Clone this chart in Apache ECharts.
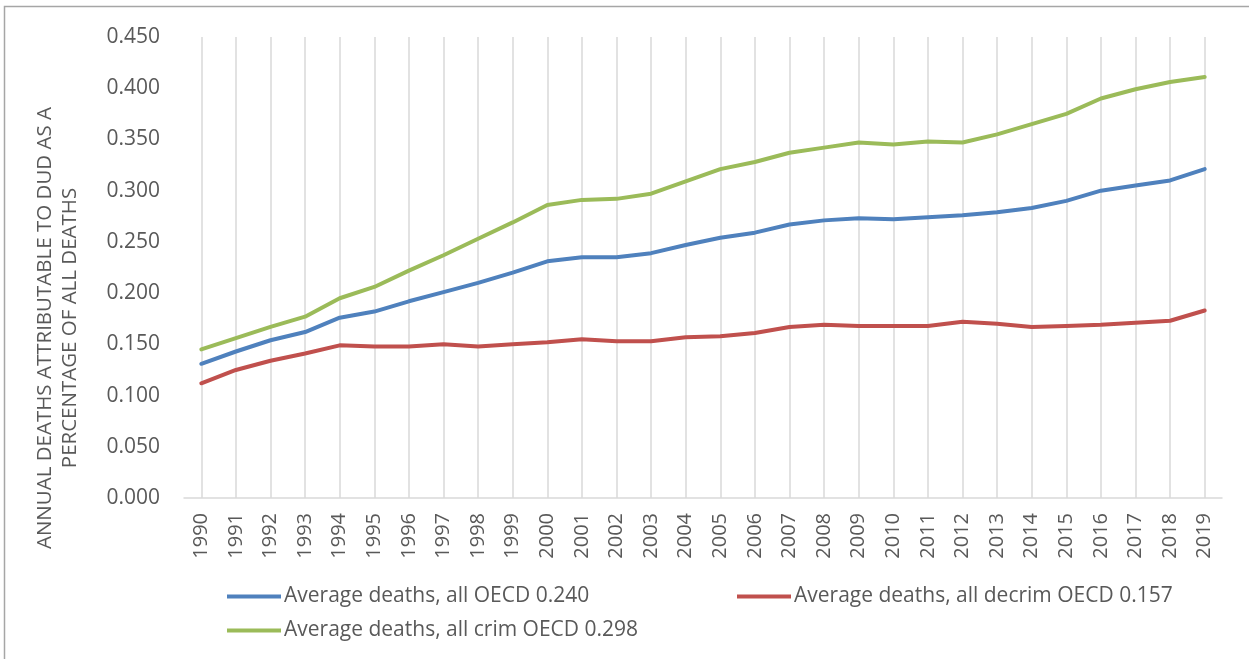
<!DOCTYPE html>
<html>
<head>
<meta charset="utf-8">
<script src="https://cdn.jsdelivr.net/npm/echarts@6/dist/echarts.min.js"></script>
<style>
  html, body { margin: 0; padding: 0; background: #ffffff; }
  #chart { width: 1249px; height: 659px; }
</style>
</head>
<body>
<div id="chart"></div>
<script>
// Years on the category axis
const years = ['1990','1991','1992','1993','1994','1995','1996','1997','1998','1999',
               '2000','2001','2002','2003','2004','2005','2006','2007','2008','2009',
               '2010','2011','2012','2013','2014','2015','2016','2017','2018','2019'];

// Annual deaths attributable to DUD, % of all deaths
const allOecd = [0.131,0.143,0.154,0.162,0.176,0.182,0.192,0.201,0.210,0.220,
                 0.231,0.235,0.235,0.239,0.247,0.254,0.259,0.267,0.271,0.273,
                 0.272,0.274,0.276,0.279,0.283,0.290,0.300,0.305,0.310,0.321];
const decrimOecd = [0.112,0.125,0.134,0.141,0.149,0.148,0.148,0.150,0.148,0.150,
                    0.152,0.155,0.153,0.153,0.157,0.158,0.161,0.167,0.169,0.168,
                    0.168,0.168,0.172,0.170,0.167,0.168,0.169,0.171,0.173,0.183];
const crimOecd = [0.145,0.156,0.167,0.177,0.195,0.206,0.222,0.237,0.253,0.269,
                  0.286,0.291,0.292,0.297,0.309,0.321,0.328,0.337,0.342,0.347,
                  0.345,0.348,0.347,0.355,0.365,0.375,0.390,0.399,0.406,0.411];

const seriesNames = ['Average deaths, all OECD 0.240',
                     'Average deaths, all decrim OECD 0.157',
                     'Average deaths, all crim OECD 0.298'];
const yAxisTitle = 'ANNUAL DEATHS ATTRIBUTABLE TO DUD AS A\nPERCENTAGE OF ALL DEATHS';

const FONT = '"Open Sans", "Noto Sans", sans-serif';
const TEXT = '#595959';
const colors = ['#4f81bd', '#c0504d', '#9bbb59'];

const chart = echarts.init(document.getElementById('chart'), null, { renderer: 'canvas' });

function legendAt(name, left, top) {
  return {
    data: [name],
    left: left, top: top,
    icon: 'rect', itemWidth: 54, itemHeight: 4, itemGap: 0,
    padding: 0,
    textStyle: { fontFamily: FONT, fontSize: 21, color: TEXT, padding: [0, 0, 0, -2] }
  };
}

function lineSeries(name, data, color) {
  return {
    name: name, type: 'line', data: data,
    symbol: 'none', smooth: false,
    lineStyle: { color: color, width: 4, cap: 'round', join: 'round' },
    itemStyle: { color: color },
    emphasis: { disabled: true }
  };
}

chart.setOption({
  animation: false,
  backgroundColor: '#ffffff',
  color: colors,
  textStyle: { fontFamily: FONT },
  grid: { left: 184, right: 27, top: 37, bottom: 161, containLabel: false },
  graphic: [
    {
      type: 'rect', silent: true,
      shape: { x: 4.5, y: 6.5, width: 1400, height: 800 },
      style: { fill: 'none', stroke: '#a6a6a6', lineWidth: 1.5 }
    },
    {
      type: 'text', silent: true,
      x: 58, y: 328, rotation: Math.PI / 2,
      style: {
        text: yAxisTitle, fontFamily: FONT, fontSize: 20.5, fill: TEXT,
        align: 'center', verticalAlign: 'middle', lineHeight: 25
      }
    }
  ],
  legend: [
    legendAt(seriesNames[0], 227, 586),
    legendAt(seriesNames[1], 737, 586),
    legendAt(seriesNames[2], 227, 620)
  ],
  xAxis: {
    type: 'category', data: years, boundaryGap: true,
    axisLine: { show: true, lineStyle: { color: '#d9d9d9', width: 1.5 } },
    axisTick: { show: false },
    splitLine: { show: true, alignWithLabel: true, lineStyle: { color: '#d9d9d9', width: 1.5 } },
    axisLabel: {
      rotate: 90, interval: 0, margin: 15,
      fontFamily: FONT, fontSize: 20, color: TEXT
    }
  },
  yAxis: {
    type: 'value', min: 0, max: 0.45, interval: 0.05,
    axisLine: { show: false }, axisTick: { show: false },
    splitLine: { show: false },
    axisLabel: {
      margin: 24, fontFamily: FONT, fontSize: 21, color: TEXT,
      formatter: v => v.toFixed(3)
    }
  },
  series: [
    lineSeries(seriesNames[0], allOecd, colors[0]),
    lineSeries(seriesNames[1], decrimOecd, colors[1]),
    lineSeries(seriesNames[2], crimOecd, colors[2])
  ]
});
</script>
</body>
</html>
